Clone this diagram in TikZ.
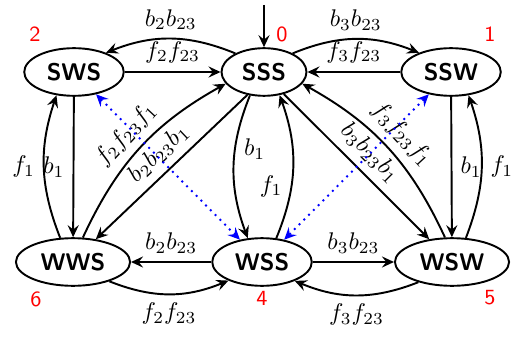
\documentclass[tikz,border=0pt]{standalone}
\usetikzlibrary{arrows.meta,shapes.geometric}
\begin{document}
\begin{tikzpicture}[x=0.415pt,y=0.415pt,
  state/.style={ellipse,draw,thick,font=\sffamily\bfseries,inner sep=3.3pt},
  num/.style={text=red,font=\small\sffamily},
  edge/.style={thick,-{Stealth[length=5pt,width=4.6pt,inset=1.8pt]}},
  dotedge/.style={blue,thick,dotted,{Stealth[length=5pt,width=4.6pt,inset=1.8pt]}-{Stealth[length=5pt,width=4.6pt,inset=1.8pt]}}]
\useasboundingbox (0,0) rectangle (518,337);
% states
\node[state] (sss) at (264,265) {SSS};
\node[state] (sws) at (74,265) {SWS};
\node[state] (ssw) at (451,265) {SSW};
\node[state] (wws) at (73,75) {WWS};
\node[state] (wss) at (262,75) {WSS};
\node[state] (wsw) at (452,75) {WSW};
% numbers
\node[num] (n0) at (282,303) {0};
\node[num] (n1) at (490,303) {1};
\node[num] (n2) at (35,303) {2};
\node[num] (n4) at (262,39) {4};
\node[num] (n5) at (490,39) {5};
\node[num] (n6) at (36,38) {6};
% initial
\coordinate (init) at (264,332);
\draw[edge] (init) -- (sss);
% top row
\draw[edge] (sss.147) to[bend right=22] node[above] {$b_2b_{23}$} (sws.31);
\draw[edge] (sws) -- node[above] {$f_2f_{23}$} (sss);
\draw[edge] (sss.33) to[bend left=22] node[above] {$b_3b_{23}$} (ssw.149);
\draw[edge] (ssw) -- node[above] {$f_3f_{23}$} (sss);
% left column
\draw[edge] (sws) -- node[left] {$b_1$} (wws);
\draw[edge] (wws.118) to[bend left=20] node[left] {$f_1$} (sws.233);
% right column
\draw[edge] (ssw) -- node[right] {$b_1$} (wsw);
\draw[edge] (wsw.60) to[bend right=20] node[right] {$f_1$} (ssw.307);
% middle column
\draw[edge] (sss.239) to[bend right=21] node[pos=0.37,right] {$b_1$} (wss.121);
\draw[edge] (wss.59) to[bend right=21] node[pos=0.36,left] {$f_1$} (sss.304);
% diagonals
\draw[edge] (sss.234) -- node[sloped,above] {$b_2b_{23}b_1$} (wws.45);
\draw[edge] (wws.68) to[bend left=18] node[sloped,above] {$f_2f_{23}f_1$} (sss.197);
\draw[edge] (sss.312) -- node[sloped,above] {$b_3b_{23}b_1$} (wsw.135);
\draw[edge] (wsw.106) to[bend right=18] node[sloped,above] {$f_3f_{23}f_1$} (sss.343);
% blue dotted
\draw[dotedge] (sws) -- (wss);
\draw[dotedge] (ssw) -- (wss);
% bottom row
\draw[edge] (wss) -- node[above] {$b_2b_{23}$} (wws);
\draw[edge] (wws.332) to[bend right=22] node[below] {$f_2f_{23}$} (wss.209);
\draw[edge] (wss) -- node[above] {$b_3b_{23}$} (wsw);
\draw[edge] (wsw.211) to[bend left=22] node[below] {$f_3f_{23}$} (wss.330);
\end{tikzpicture}
\end{document}
